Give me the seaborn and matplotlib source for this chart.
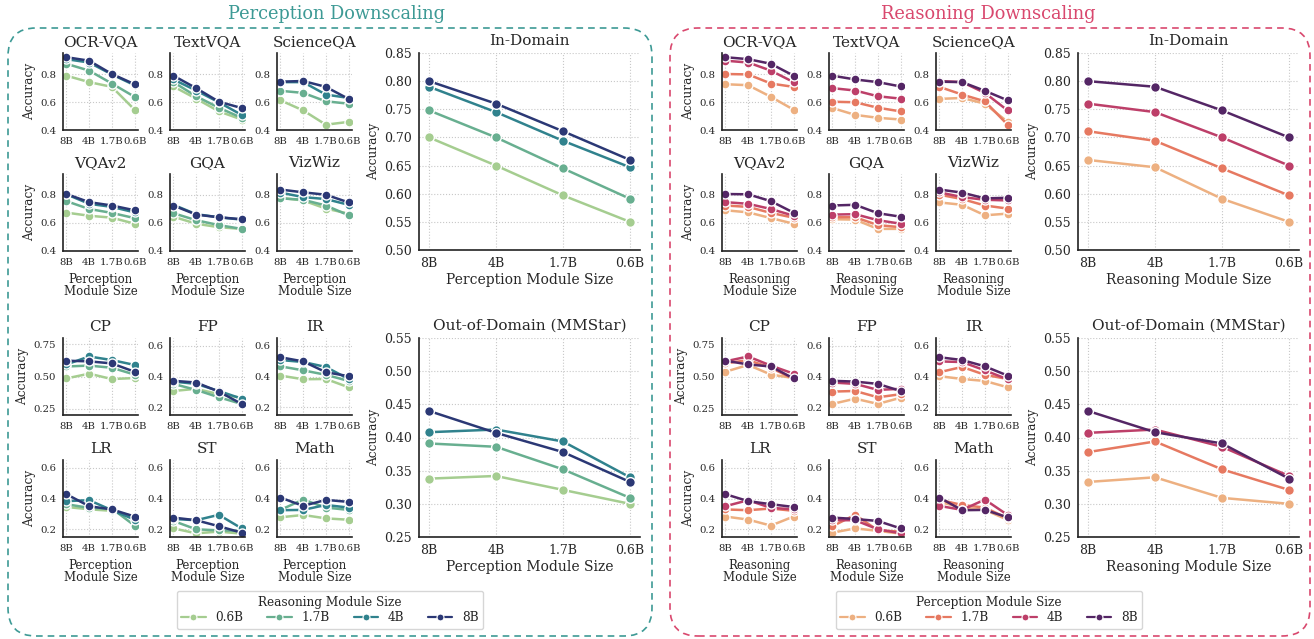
import pandas as pd
import matplotlib
matplotlib.use("Agg")
import matplotlib.pyplot as plt
import seaborn as sns
from matplotlib.patches import FancyBboxPatch
from matplotlib.lines import Line2D

sns.set_style("white", {"axes.grid": True, "grid.linestyle": ":", "grid.color": "#c8c8c8",
                        "axes.edgecolor": "#222222"})
plt.rcParams['font.family'] = ['DejaVu Serif']

# ------------------------------
# data: acc[perception][reasoning], both in order 8B, 4B, 1.7B, 0.6B
# ------------------------------
sizes = ["8B", "4B", "1.7B", "0.6B"]
hue_order = ["0.6B", "1.7B", "4B", "8B"]

ocr_vqa = [[0.920, 0.906, 0.873, 0.788],
           [0.895, 0.882, 0.824, 0.742],
           [0.800, 0.797, 0.732, 0.708],
           [0.727, 0.720, 0.637, 0.545]]
text_vqa = [[0.788, 0.761, 0.742, 0.711],
            [0.699, 0.682, 0.641, 0.624],
            [0.602, 0.598, 0.559, 0.533],
            [0.557, 0.508, 0.487, 0.475]]
science_qa = [[0.745, 0.742, 0.680, 0.612],
              [0.750, 0.742, 0.665, 0.540],
              [0.708, 0.653, 0.605, 0.438],
              [0.622, 0.629, 0.588, 0.458]]
vqav2 = [[0.807, 0.805, 0.756, 0.674],
         [0.749, 0.737, 0.700, 0.652],
         [0.725, 0.715, 0.672, 0.638],
         [0.691, 0.676, 0.635, 0.595]]
gqa = [[0.725, 0.730, 0.670, 0.645],
       [0.660, 0.663, 0.620, 0.595],
       [0.641, 0.641, 0.585, 0.570],
       [0.627, 0.624, 0.558, 0.558]]
vizwiz = [[0.839, 0.817, 0.776, 0.780],
          [0.819, 0.785, 0.766, 0.761],
          [0.802, 0.771, 0.725, 0.703],
          [0.747, 0.730, 0.655, 0.667]]
cp = [[0.623, 0.594, 0.578, 0.485],
      [0.618, 0.656, 0.585, 0.522],
      [0.602, 0.628, 0.568, 0.480],
      [0.537, 0.590, 0.515, 0.488]]
fp = [[0.372, 0.367, 0.352, 0.306],
      [0.361, 0.352, 0.313, 0.320],
      [0.302, 0.306, 0.265, 0.285],
      [0.222, 0.256, 0.222, 0.262]]
ir = [[0.525, 0.507, 0.466, 0.406],
      [0.498, 0.494, 0.440, 0.382],
      [0.428, 0.462, 0.411, 0.384],
      [0.402, 0.384, 0.371, 0.330]]
lr = [[0.428, 0.383, 0.363, 0.345],
      [0.350, 0.389, 0.339, 0.330],
      [0.329, 0.324, 0.335, 0.320],
      [0.283, 0.263, 0.224, 0.283]]
st = [[0.276, 0.267, 0.254, 0.206],
      [0.259, 0.259, 0.200, 0.174],
      [0.220, 0.294, 0.193, 0.185],
      [0.178, 0.206, 0.190, 0.172]]
math_ = [[0.406, 0.324, 0.326, 0.278],
         [0.352, 0.326, 0.393, 0.293],
         [0.391, 0.358, 0.341, 0.271],
         [0.378, 0.341, 0.326, 0.262]]
in_domain = [[0.800, 0.790, 0.748, 0.700],
             [0.760, 0.745, 0.700, 0.650],
             [0.711, 0.694, 0.645, 0.597],
             [0.660, 0.647, 0.591, 0.550]]
out_domain = [[0.440, 0.408, 0.391, 0.338],
              [0.407, 0.412, 0.386, 0.342],
              [0.378, 0.394, 0.352, 0.321],
              [0.333, 0.340, 0.309, 0.300]]

small_grid = [[("OCR-VQA", ocr_vqa), ("TextVQA", text_vqa), ("ScienceQA", science_qa)],
              [("VQAv2", vqav2), ("GQA", gqa), ("VizWiz", vizwiz)],
              [("CP", cp), ("FP", fp), ("IR", ir)],
              [("LR", lr), ("ST", st), ("Math", math_)]]


def to_long(mat):
    rows = []
    for i, p in enumerate(sizes):
        for j, r in enumerate(sizes):
            rows.append({"perception": p, "reasoning": r, "acc": mat[i][j]})
    df = pd.DataFrame(rows)
    df["perception"] = pd.Categorical(df["perception"], categories=sizes)
    df["reasoning"] = pd.Categorical(df["reasoning"], categories=sizes)
    return df


def full_palette(name):
    cmap = sns.color_palette(name, as_cmap=True)
    return [cmap(v) for v in (0.0, 0.22, 0.52, 0.96)]


W, H = 1314, 639
fig = plt.figure(figsize=(W / 100, H / 100), dpi=100)


def add_ax(x0, y0, w, h):
    return fig.add_axes([x0 / W, 1 - (y0 + h) / H, w / W, h / H])


groups = [
    {"x": "perception", "hue": "reasoning", "pal": full_palette("crest"),
     "off": 0, "name": "Perception", "legend": "Reasoning Module Size",
     "title": "Perception Downscaling", "color": "#3d9a95", "box_x": 0.08, "box_w": 6.44},
    {"x": "reasoning", "hue": "perception", "pal": full_palette("flare"),
     "off": 659, "name": "Reasoning", "legend": "Perception Module Size",
     "title": "Reasoning Downscaling", "color": "#d9486e", "box_x": 6.70, "box_w": 6.40},
]

col_x = [63, 170, 277]
row_y = [53, 174, 338, 460]


def style_ax(ax, tick_size):
    ax.set_xlim(-0.15, 3.15)
    ax.tick_params(axis='both', length=0, pad=5, labelsize=tick_size)
    ax.grid(True, linestyle=':', color='#c8c8c8', linewidth=0.8)
    sns.despine(ax=ax)
    for s in ["left", "bottom"]:
        ax.spines[s].set_linewidth(1.2)
        ax.spines[s].set_color("#222222")


for g in groups:
    # small panels
    for ri, row in enumerate(small_grid):
        for ci, (name, mat) in enumerate(row):
            ax = add_ax(col_x[ci] + g["off"], row_y[ri], 75, 77)
            sns.lineplot(data=to_long(mat), x=g["x"], y="acc", hue=g["hue"],
                         hue_order=hue_order, palette=g["pal"], marker='o',
                         markersize=6.5, markeredgecolor='white', markeredgewidth=1,
                         linewidth=1.8, errorbar=None, legend=False, ax=ax)
            style_ax(ax, 7.3)
            if ri < 2:
                ax.set_ylim(0.4, 0.95)
                ax.set_yticks([0.4, 0.6, 0.8])
            elif name == "CP":
                ax.set_ylim(0.2, 0.8)
                ax.set_yticks([0.25, 0.5, 0.75])
            else:
                ax.set_ylim(0.15, 0.65)
                ax.set_yticks([0.2, 0.4, 0.6])
            ax.set_title(name, fontsize=11, pad=5)
            ax.set_ylabel("Accuracy" if ci == 0 else "", fontsize=8.7, labelpad=3)
            if ri in (1, 3):
                ax.set_xlabel(g["name"] + "\nModule Size", fontsize=8.5, linespacing=0.95, labelpad=4)
            else:
                ax.set_xlabel("")

    # big panels
    for (bname, mat, y0, h, yticks) in [
            ("In-Domain", in_domain, 53, 197, [0.50, 0.55, 0.60, 0.65, 0.70, 0.75, 0.80, 0.85]),
            ("Out-of-Domain (MMStar)", out_domain, 338, 199, [0.25, 0.30, 0.35, 0.40, 0.45, 0.50, 0.55])]:
        ax = add_ax(419 + g["off"], y0, 221, h)
        sns.lineplot(data=to_long(mat), x=g["x"], y="acc", hue=g["hue"],
                     hue_order=hue_order, palette=g["pal"], marker='o',
                     markersize=7, markeredgecolor='white', markeredgewidth=1,
                     linewidth=1.8, errorbar=None, legend=False, ax=ax)
        style_ax(ax, 9)
        ax.set_ylim(yticks[0], yticks[-1])
        ax.set_yticks(yticks)
        ax.set_yticklabels([f"{t:.2f}" for t in yticks])
        ax.set_title(bname, fontsize=11, pad=6)
        ax.set_ylabel("Accuracy", fontsize=8.7, labelpad=3)
        ax.set_xlabel(g["name"] + " Module Size", fontsize=10, labelpad=2)

    # legend
    handles = [Line2D([], [], color=c, marker='o', markersize=5, markeredgecolor='white',
                      markeredgewidth=0.8, linewidth=1.6) for c in g["pal"]]
    fig.legend(handles, hue_order, title=g["legend"], ncol=4, fontsize=8.7, title_fontsize=8.7,
               loc='center', bbox_to_anchor=((330 + g["off"]) / W, 1 - 610 / H),
               frameon=True, edgecolor='#cccccc', handlelength=2.0, columnspacing=2.0,
               borderpad=0.4, labelspacing=0.2, handletextpad=0.8)

    # dashed group box and title
    box = FancyBboxPatch((g["box_x"], 0.03), g["box_w"], 6.08,
                         boxstyle="round,pad=0,rounding_size=0.28",
                         transform=fig.dpi_scale_trans, fill=False,
                         edgecolor=g["color"], linewidth=1.2, linestyle=(0, (4, 3)))
    fig.add_artist(box)
    fig.text((336 + g["off"] * 0.99) / W, 1 - 14 / H, g["title"], ha='center', va='center',
             fontsize=12.8, color=g["color"])

fig.savefig("out.png", dpi=100)
